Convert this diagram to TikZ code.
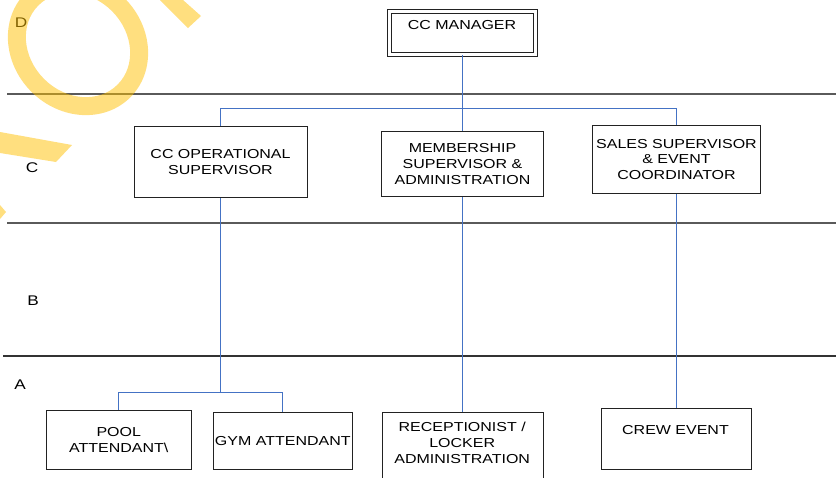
\documentclass[tikz,border=0pt]{standalone}
\usepackage{fontspec}
\setmainfont{Liberation Sans}[FakeStretch=1.23]
\newcommand\orgfont{\fontsize{13}{15.8}\selectfont}
\newcommand\lvlfont{\fontsize{14}{16}\selectfont}
\definecolor{boxc}{HTML}{222222}
\definecolor{bandc}{HTML}{5A5A5A}
\definecolor{bandd}{HTML}{333333}
\definecolor{linkc}{HTML}{4472C4}
\definecolor{wmark}{HTML}{FFC000}
\begin{document}
\begin{tikzpicture}[x=1pt,y=-1pt,
  box/.style={draw=boxc, line width=1pt, inner sep=0pt, align=center, font=\orgfont},
  txt/.style={inner sep=0pt, align=center, font=\orgfont},
  lvl/.style={inner sep=0pt, font=\lvlfont},
  band/.style={draw=bandc, line width=1.6pt},
  link/.style={draw=linkc, line width=1pt},
  wm/.style={fill=wmark, fill opacity=0.5, draw=none}]
\clip (0,0) rectangle (836,477);
\fill[white] (0,0) rectangle (836,477);
% level bands
\draw[band] (7,94) -- (836,94);
\draw[band] (7,223) -- (836,223);
\draw[band, draw=bandd] (3,356) -- (836,356);
\node[lvl] (lD) at (21,23) {D};
\node[lvl] (lC) at (32,167.5) {C};
\node[lvl] (lB) at (33,300.5) {B};
\node[lvl] (lA) at (20,385) {A};
% boxes
\node[draw=boxc, line width=0.9pt, double, double distance=2.4pt, minimum width=146, minimum height=43, inner sep=0pt] (mgr) at (462.5,33) {};
\node[txt] (mgrt) at (462,24.7) {CC MANAGER};
\node[box, minimum width=173, minimum height=70.6] (ops) at (220.5,162) {CC OPERATIONAL\\SUPERVISOR};
\node[box, minimum width=161.5, minimum height=65.5] (mem) at (462.5,164.2) {MEMBERSHIP\\SUPERVISOR \&\\ADMINISTRATION};
\node[box, minimum width=167.7, minimum height=67.6] (sales) at (676.5,159.5) {SALES SUPERVISOR\\\& EVENT\\COORDINATOR};
\node[box, minimum width=145.5, minimum height=59.3] (pool) at (118.8,439.7) {POOL\\ATTENDANT\textbackslash};
\node[box, minimum width=139, minimum height=56.6] (gym) at (282.8,441) {GYM ATTENDANT};
\node[box, minimum width=161, minimum height=77.3] (rec) at (462.5,451.35) {};
\node[txt, font=\fontsize{13}{16}\selectfont] (rect) at (462.2,443) {RECEPTIONIST /\\LOCKER\\ADMINISTRATION};
\node[box, minimum width=150, minimum height=61] (crew) at (676.5,438.8) {};
\node[txt] (crewt) at (675.5,430.5) {CREW EVENT};
% connectors
\coordinate (bus) at (462.5,108.5);
\coordinate (opsj) at (220.5,392.5);
\draw[link] (mgr.south) -- (mem.north);
\draw[link] (ops.north) |- (bus) -| (sales.north);
\draw[link] (ops.south) -- (opsj);
\draw[link] (pool.north) |- (opsj) -| (gym.north);
\draw[link] (mem.south) -- (rec.north);
\draw[link] (sales.south) -- (crew.north);
% watermark fragments
\begin{scope}[shift={(78,45)}, rotate=-45]
  \fill[wm, even odd rule] (0,0) ellipse [x radius=74, y radius=66] (0,0) ellipse [x radius=56, y radius=48];
\end{scope}
\fill[wm] (0,132) -- (72,145) -- (56,162) -- (0,153) -- cycle;
\fill[wm] (0,205) -- (6,212) -- (0,219) -- cycle;
\fill[wm] (160,0) -- (183,0) -- (201,16) -- (188,28) -- cycle;
\end{tikzpicture}
\end{document}
